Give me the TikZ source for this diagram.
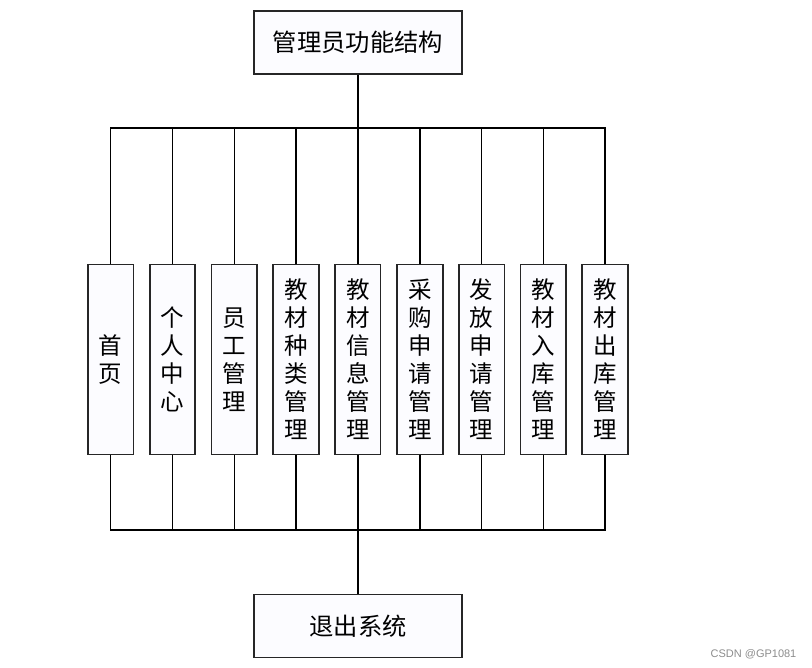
\documentclass[tikz,border=0pt]{standalone}
\usepackage{fontspec}
\newfontfamily\cjk{Noto Sans CJK SC}
\setmainfont{Liberation Sans}
\begin{document}
\begin{tikzpicture}[x=1pt,y=-1pt,
  box/.style={draw=black!85,line width=1.7pt,fill=blue!1!white,inner sep=0pt,
    font=\cjk\fontsize{23.5}{28}\selectfont,align=center},
  wide/.style={box,minimum width=208pt,minimum height=63pt,font=\cjk\fontsize{24.3}{28}\selectfont},
  tall/.style={box,minimum width=45.5pt,minimum height=190pt},
  conn/.style={draw=black,line width=1.5pt},
  trunk/.style={draw=black,line width=2.2pt}]
\useasboundingbox (0,0) rectangle (812,668);
\node[wide] (top) at (358,42.5) {管理员功能结构};
\node[wide] (exit) at (358,626) {退出系统};
\node[tall] (b1) at (110.7,359.5) {首\\页};
\node[tall] (b2) at (172.5,359.5) {个\\人\\中\\心};
\node[tall] (b3) at (234.3,359.5) {员\\工\\管\\理};
\node[tall] (b4) at (296,359.5) {教\\材\\种\\类\\管\\理};
\node[tall] (b5) at (357.8,359.5) {教\\材\\信\\息\\管\\理};
\node[tall] (b6) at (420,359.5) {采\\购\\申\\请\\管\\理};
\node[tall] (b7) at (481.7,359.5) {发\\放\\申\\请\\管\\理};
\node[tall] (b8) at (543.3,359.5) {教\\材\\入\\库\\管\\理};
\node[tall] (b9) at (605,359.5) {教\\材\\出\\库\\管\\理};
\coordinate (bt) at (358,128);
\coordinate (bb) at (358,530);
\draw[trunk] (top.south) -- (bt);
\draw[trunk] (bb) -- (exit.north);
\foreach \i in {1,...,9}{
  \draw[conn] (bt) -| (b\i.north);
  \draw[conn] (b\i.south) |- (bb);
}
\node[text=black!45,font=\fontsize{11}{13}\selectfont,inner sep=0pt] (wm) at (753.5,654) {CSDN @GP1081};
\end{tikzpicture}
\end{document}
